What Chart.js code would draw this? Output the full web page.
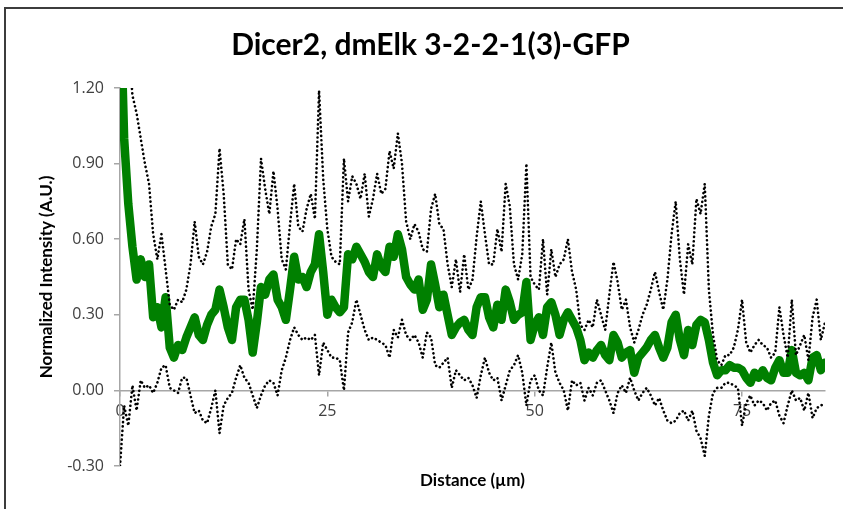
<!DOCTYPE html>
<html>
<head>
<meta charset="utf-8">
<script src="https://cdn.jsdelivr.net/npm/chart.js@4.4.1/dist/chart.umd.min.js"></script>
<style>
  html, body { margin: 0; padding: 0; background: #ffffff; }
  #c { display: block; }
</style>
</head>
<body>
<canvas id="c" width="843" height="509"></canvas>
<script>
// Distance along the profile (µm)
const distance = [
  0, 0.5, 1, 1.5, 2, 2.5, 3, 3.5, 4, 4.5, 5, 5.5, 6, 6.5, 7, 7.5, 8, 8.5, 9, 9.5,
  10, 10.5, 11, 11.5, 12, 12.5, 13, 13.5, 14, 14.5, 15, 15.5, 16, 16.5, 17, 17.5, 18, 18.5, 19, 19.5,
  20, 20.5, 21, 21.5, 22, 22.5, 23, 23.5, 24, 24.5, 25, 25.5, 26, 26.5, 27, 27.5, 28, 28.5, 29, 29.5,
  30, 30.5, 31, 31.5, 32, 32.5, 33, 33.5, 34, 34.5, 35, 35.5, 36, 36.5, 37, 37.5, 38, 38.5, 39, 39.5,
  40, 40.5, 41, 41.5, 42, 42.5, 43, 43.5, 44, 44.5, 45, 45.5, 46, 46.5, 47, 47.5, 48, 48.5, 49, 49.5,
  50, 50.5, 51, 51.5, 52, 52.5, 53, 53.5, 54, 54.5, 55, 55.5, 56, 56.5, 57, 57.5, 58, 58.5, 59, 59.5,
  60, 60.5, 61, 61.5, 62, 62.5, 63, 63.5, 64, 64.5, 65, 65.5, 66, 66.5, 67, 67.5, 68, 68.5, 69, 69.5,
  70, 70.5, 71, 71.5, 72, 72.5, 73, 73.5, 74, 74.5, 75, 75.5, 76, 76.5, 77, 77.5, 78, 78.5, 79, 79.5,
  80, 80.5, 81, 81.5, 82, 82.5, 83, 83.5, 84, 84.5, 85
];

// Mean normalized intensity
const meanIntensity = [
  1.60, 1.00, 0.74, 0.57, 0.44, 0.52, 0.45, 0.50, 0.29, 0.33, 0.25, 0.37, 0.17, 0.13, 0.18, 0.16, 0.21, 0.25, 0.29, 0.22,
  0.20, 0.26, 0.30, 0.32, 0.40, 0.33, 0.25, 0.20, 0.33, 0.36, 0.36, 0.28, 0.15, 0.27, 0.41, 0.38, 0.44, 0.46, 0.36, 0.33,
  0.28, 0.40, 0.53, 0.44, 0.45, 0.41, 0.47, 0.50, 0.62, 0.47, 0.30, 0.36, 0.33, 0.31, 0.33, 0.54, 0.52, 0.57, 0.54, 0.51,
  0.47, 0.45, 0.54, 0.49, 0.47, 0.57, 0.53, 0.62, 0.56, 0.45, 0.42, 0.40, 0.44, 0.32, 0.36, 0.50, 0.42, 0.33, 0.38, 0.30,
  0.22, 0.25, 0.27, 0.28, 0.24, 0.22, 0.33, 0.37, 0.37, 0.29, 0.25, 0.34, 0.28, 0.40, 0.35, 0.28, 0.30, 0.31, 0.43, 0.20,
  0.26, 0.29, 0.22, 0.33, 0.35, 0.30, 0.22, 0.28, 0.31, 0.28, 0.25, 0.20, 0.12, 0.15, 0.13, 0.16, 0.18, 0.14, 0.12, 0.22,
  0.19, 0.13, 0.15, 0.16, 0.07, 0.13, 0.15, 0.17, 0.20, 0.22, 0.17, 0.13, 0.17, 0.27, 0.30, 0.20, 0.14, 0.24, 0.18, 0.26,
  0.28, 0.27, 0.20, 0.11, 0.06, 0.08, 0.08, 0.10, 0.09, 0.09, 0.08, 0.05, 0.03, 0.07, 0.05, 0.08, 0.05, 0.04, 0.09, 0.12,
  0.07, 0.07, 0.16, 0.07, 0.06, 0.07, 0.04, 0.13, 0.14, 0.08, 0.11
];

// Mean + SD
const upperBound = [
  2.40, 1.80, 1.40, 1.17, 1.10, 1.00, 0.90, 0.82, 0.62, 0.52, 0.62, 0.48, 0.34, 0.32, 0.36, 0.35, 0.40, 0.50, 0.67, 0.53,
  0.50, 0.55, 0.65, 0.70, 0.96, 0.78, 0.50, 0.48, 0.60, 0.58, 0.68, 0.40, 0.32, 0.56, 0.92, 0.80, 0.70, 0.87, 0.72, 0.52,
  0.48, 0.66, 0.82, 0.65, 0.63, 0.72, 0.78, 0.68, 1.19, 0.84, 0.64, 0.53, 0.51, 0.50, 0.92, 0.75, 0.85, 0.82, 0.76, 0.86,
  0.69, 0.76, 0.86, 0.78, 0.80, 0.95, 0.88, 1.02, 0.90, 0.67, 0.60, 0.66, 0.63, 0.56, 0.55, 0.72, 0.78, 0.66, 0.64, 0.50,
  0.41, 0.52, 0.39, 0.54, 0.40, 0.44, 0.61, 0.75, 0.62, 0.50, 0.50, 0.64, 0.55, 0.82, 0.73, 0.50, 0.44, 0.54, 0.90, 0.45,
  0.42, 0.40, 0.60, 0.38, 0.56, 0.45, 0.50, 0.52, 0.60, 0.47, 0.40, 0.26, 0.24, 0.28, 0.25, 0.36, 0.30, 0.24, 0.38, 0.51,
  0.43, 0.32, 0.36, 0.25, 0.19, 0.24, 0.30, 0.34, 0.40, 0.47, 0.39, 0.32, 0.44, 0.62, 0.75, 0.52, 0.38, 0.58, 0.50, 0.76,
  0.70, 0.82, 0.40, 0.22, 0.12, 0.10, 0.14, 0.14, 0.17, 0.24, 0.36, 0.19, 0.15, 0.18, 0.20, 0.18, 0.17, 0.13, 0.15, 0.33,
  0.22, 0.13, 0.36, 0.14, 0.18, 0.22, 0.12, 0.29, 0.36, 0.20, 0.27
];

// Mean - SD
const lowerBound = [
  -0.30, -0.06, -0.14, 0.02, -0.08, 0.04, 0.01, 0.02, -0.01, 0.03, 0.09, 0.10, 0.01, 0.00, -0.01, 0.05, 0.05, -0.02, -0.09, -0.08,
  -0.12, -0.13, -0.07, 0.00, -0.17, -0.06, -0.03, -0.01, 0.05, 0.10, 0.05, 0.03, -0.02, -0.07, -0.02, 0.02, 0.04, 0.03, -0.02, 0.08,
  0.13, 0.20, 0.25, 0.22, 0.20, 0.21, 0.20, 0.22, 0.06, 0.19, 0.16, 0.13, 0.13, 0.12, 0.00, 0.23, 0.27, 0.36, 0.30, 0.24,
  0.20, 0.21, 0.20, 0.19, 0.18, 0.13, 0.24, 0.21, 0.28, 0.22, 0.20, 0.22, 0.19, 0.13, 0.23, 0.21, 0.10, 0.09, 0.11, 0.13,
  0.01, 0.08, 0.06, 0.04, 0.05, 0.02, -0.03, 0.06, 0.13, 0.07, 0.04, 0.05, -0.04, 0.02, 0.08, 0.10, 0.14, 0.07, -0.06, 0.04,
  0.06, 0.00, -0.02, 0.09, 0.19, 0.07, 0.03, 0.00, -0.08, 0.04, 0.02, 0.03, -0.04, 0.01, -0.02, 0.03, 0.04, 0.00, -0.04, -0.09,
  -0.01, 0.02, -0.01, 0.05, 0.00, -0.04, -0.01, 0.01, -0.02, -0.06, -0.03, -0.08, -0.12, -0.13, -0.12, -0.09, -0.08, -0.12, -0.08, -0.16,
  -0.19, -0.26, -0.10, -0.01, 0.01, 0.01, 0.03, 0.03, 0.02, 0.01, -0.14, -0.05, -0.02, -0.06, -0.04, -0.05, -0.08, -0.05, -0.04, -0.10,
  -0.13, -0.06, 0.00, -0.04, -0.03, -0.08, -0.01, -0.11, -0.07, -0.06, -0.05
];

const yTickValues = [-0.30, 0.00, 0.30, 0.60, 0.90, 1.20];
const xTickValues = [0, 25, 50, 75];

const chartTitle = 'Dicer2, dmElk 3-2-2-1(3)-GFP';
const xAxisTitle = 'Distance (\u00b5m)';
const yAxisTitle = 'Normalized Intensity (A.U.)';

const toPoints = (values) => distance.map((d, i) => ({ x: d, y: values[i] }));

const axisGrey = '#a6a6a6';
const labelFont = { family: "'Open Sans', 'Liberation Sans', sans-serif", size: 16 };
const boldFamily = "Lato, 'Open Sans', sans-serif";

// Round-dot style shared by the ±SD envelope lines
const dotLine = {
  borderColor: '#000000',
  borderWidth: 2.6,
  borderDash: [0.1, 4.3],
  borderCapStyle: 'round',
  borderJoinStyle: 'round',
  pointRadius: 0,
  tension: 0,
  fill: false,
  clip: 0,
  order: 1
};

// Outer frame and the x-axis caption below the plot
const framePlugin = {
  id: 'frame',
  beforeDraw(chart) {
    const ctx = chart.ctx;
    ctx.save();
    ctx.fillStyle = '#ffffff';
    ctx.fillRect(0, 0, chart.width, chart.height);
    ctx.strokeStyle = '#3c3c3c';
    ctx.lineWidth = 2;
    ctx.beginPath();
    ctx.moveTo(5, chart.height);
    ctx.lineTo(5, 8);
    ctx.lineTo(chart.width, 8);
    ctx.stroke();
    ctx.restore();
  },
  afterDraw(chart) {
    const ctx = chart.ctx;
    const area = chart.chartArea;
    ctx.save();
    ctx.fillStyle = '#000000';
    ctx.font = 'bold 17px ' + boldFamily;
    ctx.textAlign = 'center';
    ctx.textBaseline = 'middle';
    ctx.fillText(xAxisTitle, (area.left + area.right) / 2, 481);
    ctx.restore();
  }
};

new Chart(document.getElementById('c'), {
  type: 'line',
  data: {
    datasets: [
      Object.assign({ label: 'Mean + SD', data: toPoints(upperBound) }, dotLine),
      Object.assign({ label: 'Mean - SD', data: toPoints(lowerBound) }, dotLine),
      {
        label: 'Mean',
        data: toPoints(meanIntensity),
        borderColor: '#008000',
        borderWidth: 8.5,
        borderJoinStyle: 'round',
        borderCapStyle: 'round',
        pointRadius: 0,
        tension: 0,
        fill: false,
        clip: 0,
        order: 2
      }
    ]
  },
  options: {
    responsive: false,
    animation: false,
    devicePixelRatio: 1,
    layout: { padding: { left: 36, right: 18, top: 0, bottom: 43 } },
    plugins: {
      legend: { display: false },
      tooltip: { enabled: false },
      title: {
        display: true,
        text: chartTitle,
        color: '#000000',
        font: { family: boldFamily, size: 30, weight: 'bold', lineHeight: 1.2 },
        padding: { top: 27, bottom: 25 }
      }
    },
    scales: {
      x: {
        type: 'linear',
        min: 0,
        max: 85,
        position: { y: 0 },
        afterBuildTicks: (scale) => { scale.ticks = xTickValues.map(v => ({ value: v })); },
        grid: { display: true, drawOnChartArea: false, drawTicks: true, tickLength: 5, color: axisGrey, lineWidth: 1.5 },
        border: { display: true, color: axisGrey, width: 1.5 },
        ticks: { font: labelFont, color: '#404040', padding: 6, maxRotation: 0, autoSkip: false }
      },
      y: {
        type: 'linear',
        min: -0.3,
        max: 1.2,
        afterFit: (scale) => { scale.width = 84; },
        afterBuildTicks: (scale) => { scale.ticks = yTickValues.map(v => ({ value: v })); },
        grid: { display: true, drawOnChartArea: false, drawTicks: true, tickLength: 6, color: axisGrey, lineWidth: 1.5 },
        border: { display: true, color: axisGrey, width: 1.5 },
        ticks: {
          font: labelFont,
          color: '#404040',
          padding: 10,
          callback: (v) => (Math.abs(v) < 1e-9 ? 0 : v).toFixed(2)
        },
        title: {
          display: true,
          text: yAxisTitle,
          color: '#000000',
          font: { family: boldFamily, size: 17, weight: 'bold', lineHeight: 1.2 },
          padding: { top: 0, bottom: 0 }
        }
      }
    }
  },
  plugins: [framePlugin]
});
</script>
</body>
</html>
